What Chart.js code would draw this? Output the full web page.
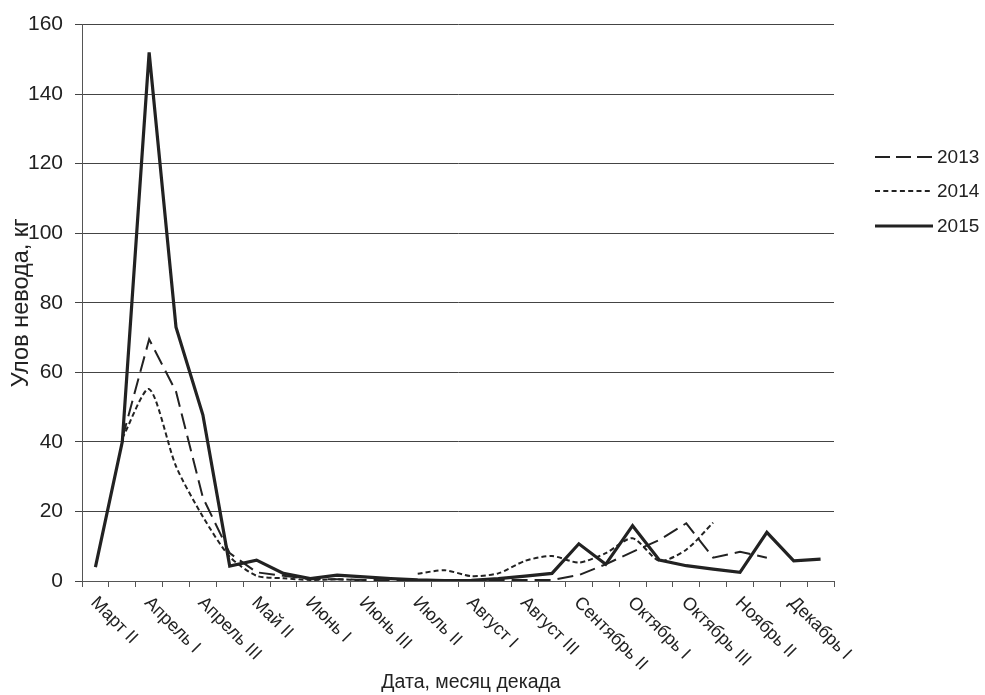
<!DOCTYPE html>
<html>
<head>
<meta charset="utf-8">
<script src="https://cdn.jsdelivr.net/npm/chart.js@4.4.0/dist/chart.umd.min.js"></script>
<style>
  html, body { margin: 0; padding: 0; background: #fff; }
  #wrap { width: 985px; height: 695px; }
</style>
</head>
<body>
<div id="wrap"><canvas id="myChart" width="985" height="695"></canvas></div>
<script>
var decades = ['Март II', 'Март III', 'Апрель I', 'Апрель II', 'Апрель III', 'Май I', 'Май II', 'Май III',
  'Июнь I', 'Июнь II', 'Июнь III', 'Июль I', 'Июль II', 'Июль III', 'Август I', 'Август II', 'Август III',
  'Сентябрь I', 'Сентябрь II', 'Сентябрь III', 'Октябрь I', 'Октябрь II', 'Октябрь III',
  'Ноябрь I', 'Ноябрь II', 'Ноябрь III', 'Декабрь I', 'Декабрь II'];

var catch2013 = [null, 41, 69.5, 54.5, 24, 8, 2.5, 1.5, 0.5, 0.5, 0.3, 0.2, 0.2, 0.1, 0.2, 0.3, 0.3,
  0.3, 1.7, 4.8, 8.4, 11.8, 16.6, 6.7, 8.4, 6.7, null, null];
var catch2014 = [null, 41, 55.2, 33, 18.5, 7, 1.5, 0.8, 0.3, 0.5, 0.2, null, 2.1, 3.1, 1.4, 2.2, 5.8,
  7.2, 5.3, 8, 12.3, 5.8, 9, 16.8, null, null, null, null];
var catch2015 = [4, 40, 152, 73, 47.8, 4.3, 6, 2.2, 0.7, 1.7, 1.2, 0.7, 0.3, 0.1, 0.2, 0.7, 1.4,
  2.2, 10.7, 4.8, 15.9, 6, 4.4, 3.4, 2.5, 14, 5.8, 6.3];

var yTicks = [0, 20, 40, 60, 80, 100, 120, 140, 160];

var ink = '#222222';
var font = 'Arial, "Liberation Sans", sans-serif';

// подписи оси X (каждая вторая декада, наклон вниз-вправо) и название оси
var xLabelsPlugin = {
  id: 'xLabels',
  afterDraw: function(chart) {
    var ctx = chart.ctx, x = chart.scales.x, y0 = chart.chartArea.bottom;
    ctx.save();
    ctx.fillStyle = ink;
    ctx.font = '18px ' + font;
    ctx.textAlign = 'left';
    ctx.textBaseline = 'middle';
    for (var i = 0; i < decades.length; i += 2) {
      var px = x.getPixelForValue(i);
      ctx.save();
      ctx.translate(px - 2, y0 + 19);
      ctx.rotate(Math.PI / 4);
      ctx.fillText(decades[i], 0, 0);
      ctx.restore();
    }
    ctx.font = '19.5px ' + font;
    ctx.textAlign = 'center';
    ctx.fillText('Дата, месяц декада', 471, 683);
    ctx.restore();
  }
};

// легенда справа
var legendPlugin = {
  id: 'sideLegend',
  afterDraw: function(chart) {
    var ctx = chart.ctx;
    var ys = [157, 191, 226];
    ctx.save();
    chart.data.datasets.forEach(function(ds, i) {
      ctx.strokeStyle = ds.borderColor;
      ctx.lineWidth = ds.borderWidth;
      ctx.setLineDash(ds.legendDash || []);
      ctx.beginPath();
      ctx.moveTo(875, ys[i]);
      ctx.lineTo(933, ys[i]);
      ctx.stroke();
      ctx.setLineDash([]);
      ctx.fillStyle = ink;
      ctx.font = '19px ' + font;
      ctx.textAlign = 'left';
      ctx.textBaseline = 'middle';
      ctx.fillText(ds.label, 937, ys[i] + 1);
    });
    ctx.restore();
  }
};

var ctx = document.getElementById('myChart').getContext('2d');
var myChart = new Chart(ctx, {
  type: 'line',
  data: {
    labels: decades,
    datasets: [
      {
        label: '2013',
        data: catch2013,
        borderColor: ink,
        borderWidth: 2,
        borderDash: [16, 7],
        legendDash: [15, 6],
        pointRadius: 0,
        tension: 0,
        fill: false
      },
      {
        label: '2014',
        data: catch2014,
        borderColor: ink,
        borderWidth: 2,
        borderDash: [5, 3],
        legendDash: [5, 3.3],
        pointRadius: 0,
        tension: 0.25,
        fill: false
      },
      {
        label: '2015',
        data: catch2015,
        borderColor: ink,
        borderWidth: 3.2,
        pointRadius: 0,
        tension: 0,
        fill: false
      }
    ]
  },
  plugins: [xLabelsPlugin, legendPlugin],
  options: {
    responsive: false,
    animation: false,
    spanGaps: false,
    layout: { padding: { top: 21, right: 151, bottom: 0, left: 0 } },
    plugins: {
      legend: { display: false },
      tooltip: { enabled: false }
    },
    scales: {
      x: {
        type: 'category',
        offset: true,
        grid: { display: true, offset: true, drawOnChartArea: false, tickLength: 6, color: '#555' },
        border: { color: '#555', width: 1 },
        ticks: { display: false, autoSkip: false },
        afterFit: function(scale) { scale.height = 114; }
      },
      y: {
        min: 0,
        max: 160,
        afterBuildTicks: function(scale) {
          scale.ticks = yTicks.map(function(v) { return { value: v }; });
        },
        grid: { color: '#444', lineWidth: 1, tickLength: 7 },
        border: { color: '#555', width: 1 },
        ticks: {
          color: ink,
          padding: 12,
          font: { family: font, size: 21 }
        },
        title: {
          display: true,
          text: 'Улов невода, кг',
          color: ink,
          font: { family: font, size: 23.5 },
          padding: { top: 7, bottom: 0 }
        },
        afterFit: function(scale) { scale.width = 82; }
      }
    }
  }
});
</script>
</body>
</html>
